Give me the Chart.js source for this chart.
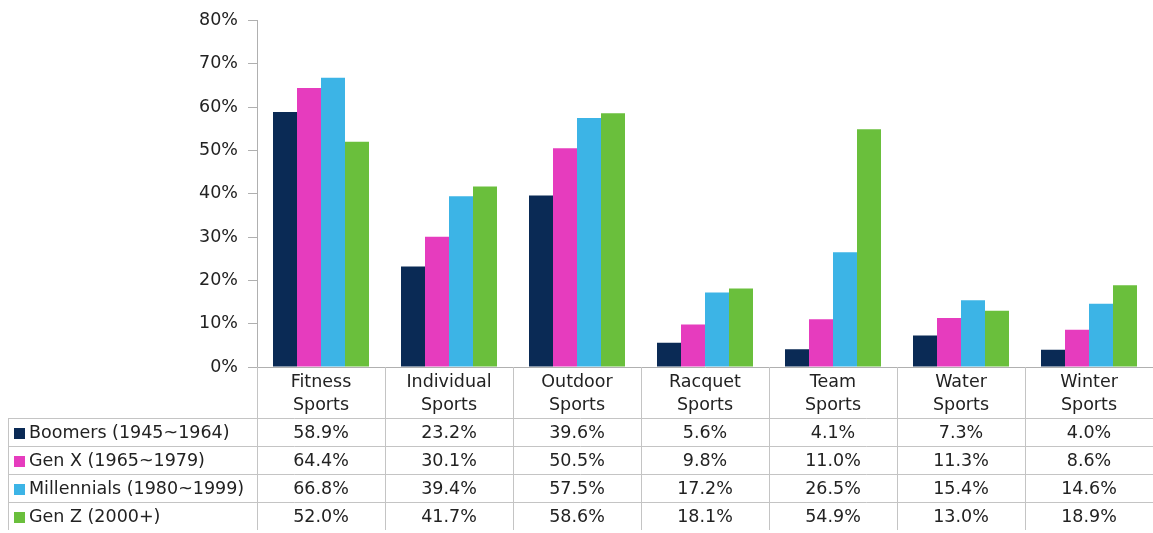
<!DOCTYPE html>
<html>
<head>
<meta charset="utf-8">
<script src="https://cdn.jsdelivr.net/npm/chart.js@4/dist/chart.umd.min.js"></script>
<style>
  html, body { margin: 0; padding: 0; background: #fff; }
  #wrap { width: 1153px; height: 533px; position: relative; }
</style>
</head>
<body>
<div id="wrap"><canvas id="chart"></canvas></div>
<script>
// categories and series
const categories = [['Fitness', 'Sports'], ['Individual', 'Sports'], ['Outdoor', 'Sports'], ['Racquet', 'Sports'], ['Team', 'Sports'], ['Water', 'Sports'], ['Winter', 'Sports']];
const seriesNames = ['Boomers (1945~1964)', 'Gen X (1965~1979)', 'Millennials (1980~1999)', 'Gen Z (2000+)'];
const boomers = [58.9, 23.2, 39.6, 5.6, 4.1, 7.3, 4.0];
const genX = [64.4, 30.1, 50.5, 9.8, 11.0, 11.3, 8.6];
const millennials = [66.8, 39.4, 57.5, 17.2, 26.5, 15.4, 14.6];
const genZ = [52.0, 41.7, 58.6, 18.1, 54.9, 13.0, 18.9];
const colors = ['#0a2a55', '#e63cbe', '#3cb4e6', '#6abf3c'];

const FONT = '"DejaVu Sans", Verdana, sans-serif';
const FSIZE = 17.5;
const LINE = '#c4c4c4';

// 画底部数据表
const dataTable = {
    id: 'dataTable',
    afterDraw(chart) {
        const ctx = chart.ctx;
        const x = chart.scales.x;
        const area = chart.chartArea;
        const rowH = 28;
        const tableTop = area.bottom + 51;
        const left = 8;
        const right = chart.width;
        const half = (x.getPixelForValue(1) - x.getPixelForValue(0)) / 2;
        ctx.save();
        ctx.strokeStyle = LINE;
        ctx.lineWidth = 1;
        // 竖线
        for (let i = 0; i < categories.length; i++) {
            const xp = Math.round(x.getPixelForValue(i) - half) + 0.5;
            ctx.beginPath();
            ctx.moveTo(xp, area.bottom);
            ctx.lineTo(xp, tableTop + rowH * 4);
            ctx.stroke();
        }
        ctx.beginPath();
        ctx.moveTo(left + 0.5, tableTop);
        ctx.lineTo(left + 0.5, tableTop + rowH * 4);
        ctx.stroke();
        // 横线
        for (let r = 0; r < 4; r++) {
            const yp = Math.round(tableTop + r * rowH) + 0.5;
            ctx.beginPath();
            ctx.moveTo(left, yp);
            ctx.lineTo(right, yp);
            ctx.stroke();
        }
        // 文本
        ctx.font = FSIZE + 'px ' + FONT;
        ctx.textBaseline = 'middle';
        chart.data.datasets.forEach((ds, r) => {
            const yc = tableTop + r * rowH + rowH / 2 + 1;
            ctx.fillStyle = ds.backgroundColor;
            ctx.fillRect(left + 6, yc - 5, 11, 11);
            ctx.fillStyle = '#222';
            ctx.textAlign = 'left';
            ctx.fillText(ds.label, left + 21, yc);
            ctx.textAlign = 'center';
            ds.data.forEach((v, i) => {
                ctx.fillText(v.toFixed(1) + '%', x.getPixelForValue(i), yc);
            });
        });
        ctx.restore();
    }
};

const chart = new Chart(document.getElementById('chart').getContext('2d'), {
    type: 'bar',
    data: {
        labels: categories,
        datasets: [
            {label: seriesNames[0], data: boomers, backgroundColor: colors[0]},
            {label: seriesNames[1], data: genX, backgroundColor: colors[1]},
            {label: seriesNames[2], data: millennials, backgroundColor: colors[2]},
            {label: seriesNames[3], data: genZ, backgroundColor: colors[3]}
        ]
    },
    options: {
        responsive: true,
        maintainAspectRatio: false,
        animation: false,
        layout: {padding: {top: 17, right: 0, left: 0, bottom: 0}},
        datasets: {bar: {categoryPercentage: 0.75, barPercentage: 1.0}},
        plugins: {legend: {display: false}, tooltip: {enabled: false}},
        scales: {
            x: {
                grid: {display: false},
                border: {display: true, color: '#b0b0b0'},
                ticks: {font: {family: FONT, size: FSIZE, lineHeight: 1.3}, color: '#222', padding: -4, maxRotation: 0},
                afterFit(scale) { scale.height = 166; }
            },
            y: {
                min: 0,
                max: 80,
                ticks: {
                    stepSize: 10,
                    font: {family: FONT, size: FSIZE},
                    color: '#222',
                    padding: 10,
                    callback: v => v + '%'
                },
                grid: {drawOnChartArea: false, drawTicks: true, tickLength: 9, color: '#b0b0b0'},
                border: {display: true, color: '#b0b0b0'},
                afterFit(scale) { scale.width = 257; }
            }
        }
    },
    plugins: [dataTable]
});
</script>
</body>
</html>
